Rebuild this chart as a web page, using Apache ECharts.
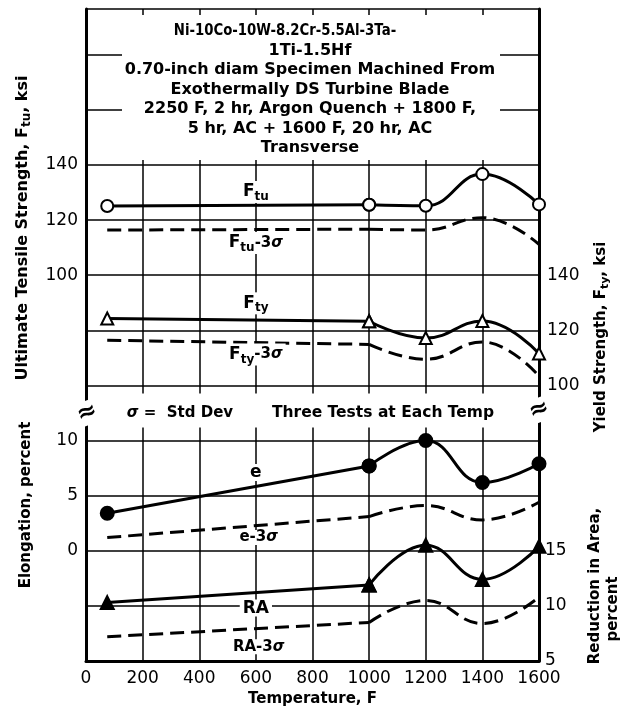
<!DOCTYPE html>
<html>
<head>
<meta charset="utf-8">
<script src="https://cdn.jsdelivr.net/npm/echarts@6/dist/echarts.min.js"></script>
<style>
  html, body { margin: 0; padding: 0; background: #fff; }
  #chart { width: 633px; height: 713px; }
</style>
</head>
<body>
<div id="chart"></div>
<script>
// Test temperatures, F (room temperature first)
const temps = [75, 1000, 1200, 1400, 1600];

// Ultimate tensile strength, ksi (mean and mean - 3 sigma)
const ftu    = [125.1, 125.6, 125.2, 136.7, 125.7];
const ftuMin = [116.4, 116.7, 116.4, 120.9, 111.2];

// Yield strength, ksi
const fty    = [124.3, 123.3, 117.2, 123.4, 111.6];
const ftyMin = [116.4, 114.9, 109.5, 115.8, 103.4];

// Elongation, percent
const elong    = [3.4, 7.7, 10.0, 6.2, 7.9];
const elongMin = [1.2, 3.1, 4.1, 2.8, 4.4];

// Reduction in area, percent
const redArea    = [10.3, 11.9, 15.5, 12.4, 15.4];
const redAreaMin = [7.2, 8.5, 10.5, 8.4, 10.8];

// Labelled ticks on each scale
const tensileTicks = [100, 120, 140];
const yieldTicks   = [100, 120, 140];
const elongTicks   = [0, 5, 10];
const raTicks      = [5, 10, 15];

const titleLines = [
  'Ni-10Co-10W-8.2Cr-5.5Al-3Ta-',
  '1Ti-1.5Hf',
  '0.70-inch diam Specimen Machined From',
  'Exothermally DS Turbine Blade',
  '2250 F, 2 hr, Argon Quench + 1800 F,',
  '5 hr, AC + 1600 F, 20 hr, AC',
  'Transverse'
];

const BOLD = 'DejaVu Sans';
const chart = echarts.init(document.getElementById('chart'), null, { renderer: 'canvas' });

const pairs = (vals, from, to) => temps.slice(from, to).map((t, i) => [t, vals[from + i]]);

// Each curve: straight run from room temperature to 1000 F, faired curve above 1000 F
function meanSeries(name, vals, axis, symbol, filled) {
  const base = {
    name, type: 'line', yAxisIndex: axis,
    symbol, symbolSize: filled ? 13 : 12, showAllSymbol: true,
    lineStyle: { color: '#000', width: 3 },
    itemStyle: { color: filled ? '#000' : '#fff', borderColor: '#000', borderWidth: 2 },
    z: 4, silent: true
  };
  return [
    Object.assign({}, base, { data: pairs(vals, 0, 2), smooth: false }),
    Object.assign({}, base, { data: pairs(vals, 1, 5), smooth: 0.45 })
  ];
}
function minSeries(name, vals, axis) {
  const base = {
    name, type: 'line', yAxisIndex: axis, symbol: 'none',
    lineStyle: { color: '#000', width: 3, type: [14, 7] },
    z: 3, silent: true
  };
  return [
    Object.assign({}, base, { data: pairs(vals, 0, 2), smooth: false }),
    Object.assign({}, base, { data: pairs(vals, 1, 5), smooth: 0.45 })
  ];
}
const pick = list => v => (list.indexOf(v) >= 0 ? String(v) : '');
const tickFont = { fontFamily: 'DejaVu Sans', fontSize: 17, color: '#000' };

// Shared pixel scale: 20 ksi = 5 percent per grid row
const gridTop = 9, gridBottom = 52;
const rows = 496 / 180;                       // px per ksi
const plotH = 713 - gridTop - gridBottom;
const tensileMax = -40 + plotH / rows;

chart.setOption({
  animation: false,
  grid: { left: 86, right: 94, top: gridTop, bottom: gridBottom, containLabel: false, outerBoundsMode: 'none' },
  xAxis: {
    type: 'value', min: 0, max: 1600, interval: 200,
    axisLine: { onZero: false, lineStyle: { color: '#000', width: 3 } },
    axisTick: { show: false },
    splitLine: { show: true, lineStyle: { color: '#000', width: 1.5 } },
    axisLabel: Object.assign({ margin: 9, formatter: v => String(v) }, tickFont),
    name: 'Temperature, F', nameLocation: 'middle', nameGap: 30,
    nameTextStyle: { fontFamily: BOLD, fontWeight: 'bold', fontSize: 15, color: '#000' }
  },
  yAxis: [
    { // ultimate tensile strength
      type: 'value', position: 'left', min: -40, max: tensileMax, interval: 20,
      axisLine: { show: true, onZero: false, lineStyle: { color: '#000', width: 3 } },
      axisTick: { show: false },
      splitLine: { show: true, lineStyle: { color: '#000', width: 1.5 } },
      axisLabel: Object.assign({ margin: 8, formatter: pick(tensileTicks), showMaxLabel: false }, tickFont)
    },
    { // yield strength
      type: 'value', position: 'right', min: 0, max: tensileMax + 40, interval: 20,
      axisLine: { show: true, onZero: false, lineStyle: { color: '#000', width: 3 } },
      axisTick: { show: false }, splitLine: { show: false },
      axisLabel: Object.assign({ margin: 8, formatter: pick(yieldTicks), showMaxLabel: false }, tickFont)
    },
    { // elongation
      type: 'value', position: 'left', min: -10, max: tensileMax / 4, interval: 5,
      axisLine: { show: false }, axisTick: { show: false }, splitLine: { show: false },
      axisLabel: Object.assign({ margin: 8, formatter: pick(elongTicks), showMaxLabel: false }, tickFont)
    },
    { // reduction in area
      type: 'value', position: 'right', min: 5, max: tensileMax / 4 + 15, interval: 5,
      axisLine: { show: false }, axisTick: { show: false }, splitLine: { show: false },
      axisLabel: Object.assign({ margin: 6, formatter: pick(raTicks), showMaxLabel: false }, tickFont)
    }
  ],
  series: [].concat(
    meanSeries('Ftu', ftu, 0, 'circle', false),
    minSeries('Ftu-3s', ftuMin, 0),
    meanSeries('Fty', fty, 1, 'triangle', false),
    minSeries('Fty-3s', ftyMin, 1),
    meanSeries('e', elong, 2, 'circle', true),
    minSeries('e-3s', elongMin, 2),
    meanSeries('RA', redArea, 3, 'triangle', true),
    minSeries('RA-3s', redAreaMin, 3)
  )
});

// ---- annotations placed through the axis scales ----
const px = (x, y, axis) => chart.convertToPixel({ xAxisIndex: 0, yAxisIndex: axis }, [x, y]);

const rich = {
  b:  { fontFamily: BOLD, fontWeight: 'bold', fontSize: 17, color: '#000' },
  s:  { fontFamily: BOLD, fontWeight: 'bold', fontSize: 12, color: '#000', padding: [10, 0, 0, 0] },
  n:  { fontFamily: BOLD, fontWeight: 'bold', fontSize: 15, color: '#000' },
  g:  { fontFamily: BOLD, fontWeight: 'bold', fontStyle: 'italic', fontSize: 15, color: '#000' },
  t:  { fontFamily: BOLD, fontWeight: 'bold', fontSize: 15, color: '#000' },
  u:  { fontFamily: BOLD, fontWeight: 'bold', fontSize: 16, color: '#000' },
  us: { fontFamily: BOLD, fontWeight: 'bold', fontSize: 12, color: '#000', padding: [8, 0, 0, 0] },
  ts: { fontFamily: BOLD, fontWeight: 'bold', fontSize: 11, color: '#000', padding: [8, 0, 0, 0] }
};

const curveLabels = [
  { text: '{b|F}{s|tu}',            x: 600, y: 130.2, axis: 0 },
  { text: '{b|F}{s|tu}{n|-3}{g|σ}', x: 600, y: 111.7, axis: 0 },
  { text: '{b|F}{s|ty}',            x: 600, y: 129.8, axis: 1 },
  { text: '{b|F}{s|ty}{n|-3}{g|σ}', x: 600, y: 111.2, axis: 1 },
  { text: '{b|e}',                  x: 600, y: 7.1,   axis: 2 },
  { text: '{n|e-3}{g|σ}',           x: 610, y: 1.2,   axis: 2 },
  { text: '{b|RA}',                 x: 600, y: 9.8,   axis: 3 },
  { text: '{n|RA-3}{g|σ}',          x: 610, y: 6.3,   axis: 3 }
];

const graphics = [];

// title panel
const gTop = px(0, tensileMax, 0)[1];
const g140 = px(0, 140, 0)[1];
graphics.push({
  type: 'rect', z: 10, silent: true,
  shape: { x: 122, y: gTop + 6, width: 378, height: g140 - gTop - 11 },
  style: { fill: '#fff' }
});
titleLines.forEach((line, i) => {
  graphics.push({
    type: 'text', z: 11, silent: true,
    x: i === 0 ? 285 : 310, y: 31 + i * 19.5,
    scaleX: i === 0 ? 0.83 : 1,
    style: { text: line, fontFamily: BOLD, fontWeight: 'bold', fontSize: 16, fill: '#000',
             align: 'center', verticalAlign: 'middle' }
  });
});

// gap band between the strength and ductility panels
const y60 = px(0, 60, 0)[1], y40 = px(0, 40, 0)[1];
const xl = px(0, 0, 0)[0], xr = px(1600, 0, 0)[0];
graphics.push({
  type: 'rect', z: 10, silent: true,
  shape: { x: xl + 3, y: y60 + 8, width: xr - xl - 6, height: y40 - y60 - 21 },
  style: { fill: '#fff' }
});
const midY = (y60 + y40) / 2;
graphics.push({
  type: 'text', z: 11, silent: true, x: 180, y: midY,
  style: { text: '{g|σ}{t| =  Std Dev}', rich, align: 'center', verticalAlign: 'middle' }
});
graphics.push({
  type: 'text', z: 11, silent: true, x: 383, y: midY,
  style: { text: 'Three Tests at Each Temp', fontFamily: BOLD, fontWeight: 'bold', fontSize: 15.5,
           fill: '#000', align: 'center', verticalAlign: 'middle' }
});
// scale breaks on both vertical axes
[[xl + 1, midY], [xr, midY - 3]].forEach(([x, y]) => {
  graphics.push({
    type: 'text', z: 12, silent: true, x, y, rotation: 0.35,
    style: { text: '≈', fontFamily: BOLD, fontWeight: 'bold', fontSize: 24, fill: '#000',
             backgroundColor: '#fff', padding: [0, 0], align: 'center', verticalAlign: 'middle' }
  });
});

// curve labels
curveLabels.forEach(l => {
  const p = px(l.x, l.y, l.axis);
  graphics.push({
    type: 'text', z: 12, silent: true, x: p[0], y: p[1],
    style: { text: l.text, rich, backgroundColor: '#fff', padding: [0, 3],
             align: 'center', verticalAlign: 'middle' }
  });
});

// axis titles
const axisTitle = (text, x, y) => ({
  type: 'text', z: 12, silent: true, x, y, rotation: Math.PI / 2,
  style: { text, rich, align: 'center', verticalAlign: 'middle' }
});
graphics.push(axisTitle('{u|Ultimate Tensile Strength, F}{us|tu}{u|, ksi}', 23, 228));
graphics.push(axisTitle('{t|Elongation, percent}', 26, 505));
graphics.push(axisTitle('{t|Yield Strength, F}{ts|ty}{t|, ksi}', 601, 337));
graphics.push(axisTitle('{t|Reduction in Area,}', 595, 586));
graphics.push(axisTitle('{t|percent}', 613, 609));

chart.setOption({ graphic: graphics });
</script>
</body>
</html>
